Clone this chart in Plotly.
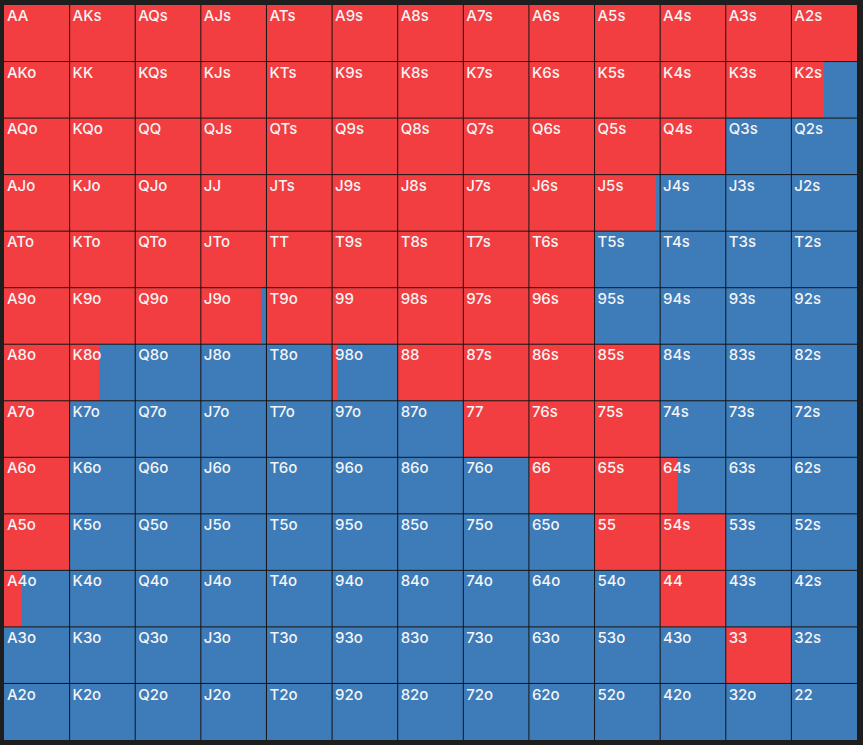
import plotly.graph_objects as go

ranks = ["A", "K", "Q", "J", "T", "9", "8", "7", "6", "5", "4", "3", "2"]

# fraction of each cell shown in red (raise), rest blue
row_A = [1, 1, 1, 1, 1, 1, 1, 1, 1, 1, 1, 1, 1]
row_K = [1, 1, 1, 1, 1, 1, 1, 1, 1, 1, 1, 1, 0.5]
row_Q = [1, 1, 1, 1, 1, 1, 1, 1, 1, 1, 1, 0, 0]
row_J = [1, 1, 1, 1, 1, 1, 1, 1, 1, 0.93, 0, 0, 0]
row_T = [1, 1, 1, 1, 1, 1, 1, 1, 1, 0, 0, 0, 0]
row_9 = [1, 1, 1, 0.91, 1, 1, 1, 1, 1, 0, 0, 0, 0]
row_8 = [1, 0.45, 0, 0, 0, 0.07, 1, 1, 1, 1, 0, 0, 0]
row_7 = [1, 0, 0, 0, 0, 0, 0, 1, 1, 1, 0, 0, 0]
row_6 = [1, 0, 0, 0, 0, 0, 0, 0, 1, 1, 0.26, 0, 0]
row_5 = [1, 0, 0, 0, 0, 0, 0, 0, 0, 1, 1, 0, 0]
row_4 = [0.27, 0, 0, 0, 0, 0, 0, 0, 0, 0, 1, 0, 0]
row_3 = [0, 0, 0, 0, 0, 0, 0, 0, 0, 0, 0, 1, 0]
row_2 = [0, 0, 0, 0, 0, 0, 0, 0, 0, 0, 0, 0, 0]
fractions = [row_A, row_K, row_Q, row_J, row_T, row_9, row_8,
             row_7, row_6, row_5, row_4, row_3, row_2]

RED = "#f23d41"
BLUE = "#3d7bb9"
GRID = "#151515"
BG = "#1e1e1e"

def label(r, c):
    if r == c:
        return ranks[r] + ranks[c]
    if c > r:
        return ranks[r] + ranks[c] + "s"
    return ranks[c] + ranks[r] + "o"

red_x, red_y, red_base = [], [], []
blue_x, blue_y, blue_base = [], [], []
tx, ty, tt = [], [], []
for r in range(13):
    for c in range(13):
        f = fractions[r][c]
        red_x.append(f); red_y.append(r + 0.5); red_base.append(c)
        blue_x.append(1 - f); blue_y.append(r + 0.5); blue_base.append(c + f)
        tx.append(c + 0.045); ty.append(r + 0.085); tt.append(label(r, c))

fig = go.Figure()
fig.add_trace(go.Bar(x=red_x, y=red_y, base=red_base, orientation="h",
                     width=1, marker=dict(color=RED, line=dict(width=0)),
                     hoverinfo="skip", showlegend=False))
fig.add_trace(go.Bar(x=blue_x, y=blue_y, base=blue_base, orientation="h",
                     width=1, marker=dict(color=BLUE, line=dict(width=0)),
                     hoverinfo="skip", showlegend=False))
fig.add_trace(go.Scatter(x=tx, y=ty, text=tt, mode="text",
                         textposition="bottom right",
                         textfont=dict(color="#f4f4f4", size=15, family="Inter",
                                       weight=500),
                         hoverinfo="skip", showlegend=False))

for i in range(1, 13):
    fig.add_shape(type="line", x0=i, x1=i, y0=0, y1=13, xref="x", yref="y",
                  line=dict(color=GRID, width=1), layer="above")
    fig.add_shape(type="line", x0=0, x1=13, y0=i, y1=i, xref="x", yref="y",
                  line=dict(color=GRID, width=1), layer="above")

fig.update_layout(
    width=863, height=745,
    margin=dict(l=4, r=6, t=5, b=5),
    paper_bgcolor=BG, plot_bgcolor=BG,
    barmode="overlay", bargap=0,
    xaxis=dict(range=[0, 13], visible=False, fixedrange=True),
    yaxis=dict(range=[13, 0], visible=False, fixedrange=True),
)

fig.write_html("out.html",
               config={"displayModeBar": False, "staticPlot": True},
               post_script="document.body.style.margin='0';"
                           "document.body.style.overflow='hidden';"
                           "document.body.style.background='#1e1e1e';")
